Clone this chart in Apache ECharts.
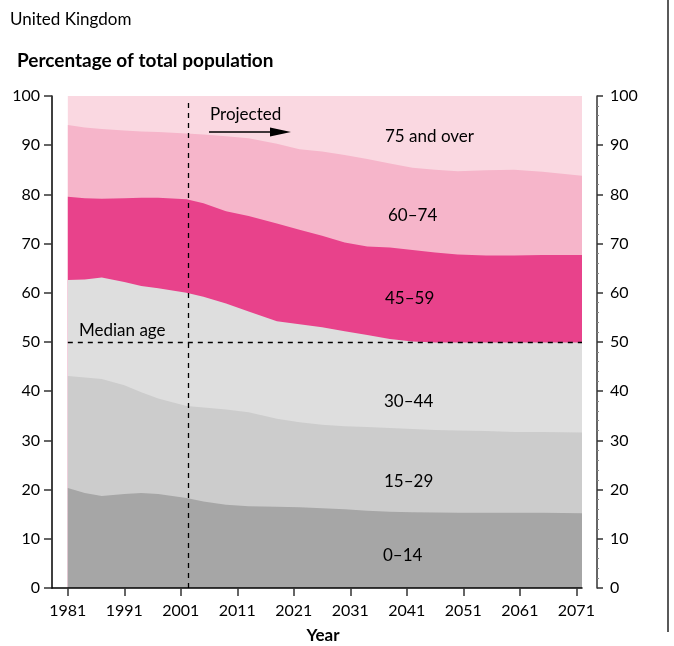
<!DOCTYPE html>
<html>
<head>
<meta charset="utf-8">
<script src="https://cdn.jsdelivr.net/npm/echarts@6/dist/echarts.min.js"></script>
<style>
html,body{margin:0;padding:0;background:#fff;}
#chart{width:674px;height:646px;}
</style>
</head>
<body>
<div id="chart"></div>
<script>
// Years (x positions of data points)
var years = [1981, 1984, 1987, 1991, 1994, 1997, 2002, 2005, 2009, 2013, 2018, 2022, 2026, 2030, 2034, 2038, 2042, 2046, 2050, 2055, 2060, 2065, 2072];
// Share of total population (%) by age group
var age0_14   = [20.3, 19.3, 18.7, 19.1, 19.3, 19.1, 18.3, 17.6, 16.9, 16.6, 16.5, 16.4, 16.2, 16.0, 15.7, 15.5, 15.4, 15.35, 15.3, 15.3, 15.3, 15.3, 15.2];
var age15_29  = [22.8, 23.5, 23.8, 22.1, 20.5, 19.4, 18.7, 19.1, 19.4, 19.1, 17.9, 17.3, 17.0, 16.9, 17.0, 17.0, 16.9, 16.75, 16.7, 16.6, 16.4, 16.4, 16.4];
var age30_44  = [19.5, 19.9, 20.6, 21.0, 21.6, 22.4, 23.0, 22.5, 21.5, 20.5, 19.8, 19.9, 19.8, 19.3, 18.7, 18.1, 17.8, 17.8, 17.9, 18.0, 18.2, 18.2, 18.3];
var age45_59  = [16.9, 16.5, 16.0, 17.0, 17.9, 18.4, 19.0, 19.0, 18.8, 19.4, 19.9, 19.2, 18.6, 18.0, 18.0, 18.6, 18.6, 18.3, 17.9, 17.7, 17.7, 17.8, 17.8];
var age60_74  = [14.6, 14.4, 14.2, 13.8, 13.5, 13.4, 13.4, 14.0, 15.2, 15.8, 16.2, 16.4, 17.1, 17.8, 17.8, 17.1, 16.7, 16.8, 16.9, 17.3, 17.4, 16.9, 16.1];
var age75plus = [5.9, 6.4, 6.7, 7.0, 7.2, 7.3, 7.6, 7.8, 8.2, 8.6, 9.7, 10.8, 11.3, 12.0, 12.8, 13.7, 14.6, 15.0, 15.3, 15.1, 15.0, 15.4, 16.2];

var xTickLabels = [1981, 1991, 2001, 2011, 2021, 2031, 2041, 2051, 2061, 2071];
var medianAge = 50;
var projectionYear = 2002.4;

var groups = [
  {name: '0–14', data: age0_14, color: '#a6a6a6'},
  {name: '15–29', data: age15_29, color: '#cccccc'},
  {name: '30–44', data: age30_44, color: '#dedede'},
  {name: '45–59', data: age45_59, color: '#e8428b'},
  {name: '60–74', data: age60_74, color: '#f6b5ca'},
  {name: '75 and over', data: age75plus, color: '#fad8e1'}
];

var FONT = 'Lato';
var chart = echarts.init(document.getElementById('chart'), null, {renderer: 'canvas'});

// cumulative totals (stack), built from the group arrays
var cum = years.map(function () { return 0; });
var stacked = groups.map(function (g) {
  cum = cum.map(function (c, k) { return Math.round((c + g.data[k]) * 100) / 100; });
  return {name: g.name, color: g.color, top: cum.slice()};
});

// draw top band first so lower bands are painted over it
var series = stacked.slice().reverse().map(function (g) {
  return {
    name: g.name,
    type: 'line',
    symbol: 'none',
    silent: true,
    lineStyle: {width: 0, opacity: 0},
    areaStyle: {color: g.color, opacity: 1, origin: 'start'},
    data: years.map(function (y, k) { return [y, g.top[k]]; })
  };
});

// dashed reference lines
series.push({
  type: 'line',
  data: [],
  silent: true,
  z: 5,
  markLine: {
    silent: true,
    symbol: 'none',
    label: {show: false},
    lineStyle: {color: '#000', type: [5, 5], width: 1.3},
    data: [
      [{coord: [years[0], medianAge]}, {coord: [years[years.length - 1], medianAge]}],
      [{coord: [projectionYear, 0]}, {coord: [projectionYear, 98.6]}]
    ]
  }
});

function txt(x, y, s, font, extra) {
  var st = {text: s, font: font, fill: '#000', verticalAlign: 'middle'};
  if (extra) for (var k in extra) st[k] = extra[k];
  return {type: 'text', x: x, y: y, z: 100, style: st};
}

var option = {
  animation: false,
  backgroundColor: '#fff',
  textStyle: {fontFamily: FONT},
  grid: {left: 52, right: 92, top: 96, bottom: 58, containLabel: false},
  xAxis: {
    type: 'value',
    min: 1978.2,
    max: 2072,
    z: 10,
    axisLine: {show: true, lineStyle: {color: '#000', width: 1.5}},
    axisTick: {show: true, inside: false, length: 8, lineStyle: {color: '#333', width: 1.5}, customValues: xTickLabels},
    axisLabel: {show: true, customValues: xTickLabels, color: '#000', fontSize: 16, fontFamily: FONT, margin: 15,
      formatter: function (v) { return String(v); }},
    splitLine: {show: false}
  },
  yAxis: [
    {
      type: 'value', min: 0, max: 100, interval: 10, position: 'left',
      axisLine: {show: true, lineStyle: {color: '#000', width: 1.5}},
      axisTick: {show: true, length: 8, lineStyle: {color: '#333', width: 1.5}},
      axisLabel: {color: '#000', fontSize: 16, fontFamily: FONT, margin: 12},
      splitLine: {show: false}
    },
    {
      type: 'value', min: 0, max: 100, interval: 10, position: 'right', offset: 15,
      axisLine: {show: true, lineStyle: {color: '#333', width: 1.5}},
      axisTick: {show: true, length: 6, lineStyle: {color: '#333', width: 1.5}},
      minorTick: {show: true, splitNumber: 5, length: 2, lineStyle: {color: '#888', width: 1}},
      axisLabel: {color: '#000', fontSize: 16, fontFamily: FONT, margin: 13},
      splitLine: {show: false}
    }
  ],
  series: series,
  graphic: [
    txt(10, 20, 'United Kingdom', '17px ' + FONT),
    txt(17, 61, 'Percentage of total population', 'bold 19px ' + FONT),
    txt(323, 636, 'Year', 'bold 17px ' + FONT, {align: 'center'}),
    txt(79, 331, 'Median age', '17px ' + FONT),
    txt(210, 115, 'Projected', '17px ' + FONT),
    {type: 'line', z: 100, shape: {x1: 209, y1: 132, x2: 272, y2: 132}, style: {stroke: '#000', lineWidth: 1.5}},
    {type: 'polygon', z: 100, shape: {points: [[270, 127.5], [291, 132], [270, 136.5]]}, style: {fill: '#000'}},
    txt(385, 136.5, '75 and over', '17px ' + FONT),
    txt(388, 216, '60–74', '17px ' + FONT),
    txt(385, 299, '45–59', '17px ' + FONT),
    txt(384, 402, '30–44', '17px ' + FONT),
    txt(384, 482, '15–29', '17px ' + FONT),
    txt(383, 556, '0–14', '17px ' + FONT),
    {type: 'line', z: 100, shape: {x1: 668, y1: 0, x2: 668, y2: 632}, style: {stroke: '#000', lineWidth: 1.3}}
  ]
};
chart.setOption(option);
</script>
</body>
</html>
